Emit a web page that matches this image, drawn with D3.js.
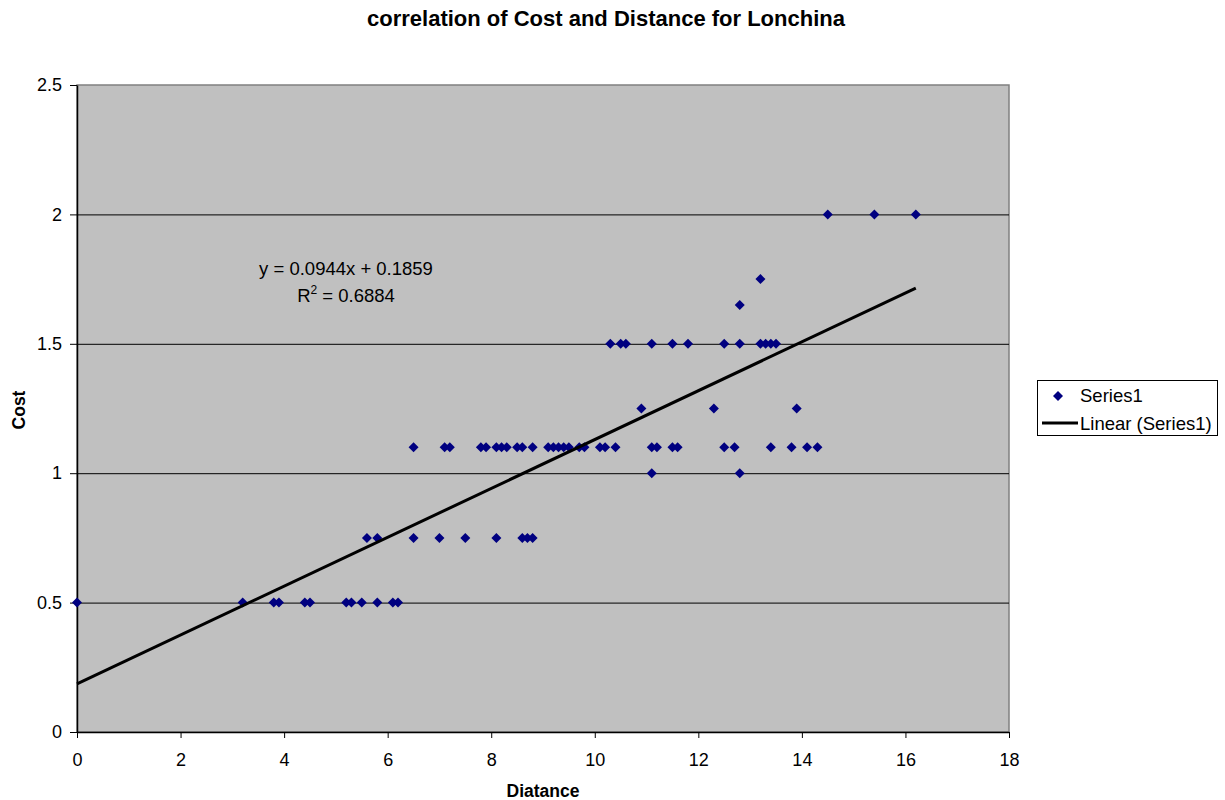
<!DOCTYPE html>
<html>
<head>
<meta charset="utf-8">
<script src="https://cdn.jsdelivr.net/npm/d3@7"></script>
<style>
  html, body { margin: 0; padding: 0; background: #fff; }
  svg { display: block; font-family: Arial, "Liberation Sans", Helvetica, sans-serif; }
</style>
</head>
<body>
<svg id="chart" width="1225" height="800"></svg>
<script>
// Distance (x) and cost (y) observations, grouped by cost level
const cost050 = [0, 3.2, 3.8, 3.9, 4.4, 4.5, 5.2, 5.3, 5.5, 5.8, 6.1, 6.2];
const cost075 = [5.6, 5.8, 6.5, 7.0, 7.5, 8.1, 8.6, 8.7, 8.8];
const cost100 = [11.1, 12.8];
const cost110 = [6.5, 7.1, 7.2, 7.8, 7.9, 8.1, 8.2, 8.3, 8.5, 8.6, 8.8, 9.1, 9.2, 9.3, 9.4, 9.5, 9.7, 9.8,
                 10.1, 10.2, 10.4, 11.1, 11.2, 11.5, 11.6, 12.5, 12.7, 13.4, 13.8, 14.1, 14.3];
const cost125 = [10.9, 12.3, 13.9];
const cost150 = [10.3, 10.5, 10.6, 11.1, 11.5, 11.8, 12.5, 12.8, 13.2, 13.3, 13.4, 13.5];
const cost165 = [12.8];
const cost175 = [13.2];
const cost200 = [14.5, 15.4, 16.2];

const costLevels = [0.5, 0.75, 1.0, 1.1, 1.25, 1.5, 1.65, 1.75, 2.0];
const distanceGroups = [cost050, cost075, cost100, cost110, cost125, cost150, cost165, cost175, cost200];

// Linear trendline coefficients
const slope = 0.0944;
const intercept = 0.1859;
const rSquared = 0.6884;

const xTicks = [0, 2, 4, 6, 8, 10, 12, 14, 16, 18];
const yTicks = [0, 0.5, 1, 1.5, 2, 2.5];

const points = [];
distanceGroups.forEach((xs, i) => xs.forEach(x => points.push({ x: x, y: costLevels[i] })));

const svg = d3.select("#chart");
const plotLeft = 77, plotRight = 1009, plotTop = 85, plotBottom = 732;

const x = d3.scaleLinear().domain([0, 18]).range([plotLeft, plotRight]);
const y = d3.scaleLinear().domain([0, 2.5]).range([plotBottom, plotTop]);

// Title
svg.append("text")
  .attr("x", 606).attr("y", 26)
  .attr("text-anchor", "middle")
  .attr("font-size", 22).attr("font-weight", "bold")
  .text("correlation of Cost and Distance for Lonchina");

// Plot area
svg.append("rect")
  .attr("x", plotLeft).attr("y", plotTop)
  .attr("width", plotRight - plotLeft).attr("height", plotBottom - plotTop)
  .attr("fill", "#c0c0c0").attr("stroke", "#808080").attr("stroke-width", 1.5);

// Gridlines
svg.append("g")
  .selectAll("line")
  .data(yTicks.filter(t => t > 0 && t < 2.5))
  .join("line")
  .attr("x1", plotLeft).attr("x2", plotRight)
  .attr("y1", d => y(d) + 0.5).attr("y2", d => y(d) + 0.5)
  .attr("stroke", "#000").attr("stroke-width", 1);

// Axes
const xAxis = svg.append("g")
  .attr("transform", `translate(0,${plotBottom})`)
  .call(d3.axisBottom(x).tickValues(xTicks).tickFormat(d3.format("d")).tickSizeInner(6).tickSizeOuter(0).tickPadding(15));
const yAxis = svg.append("g")
  .attr("transform", `translate(${plotLeft},0)`)
  .call(d3.axisLeft(y).tickValues(yTicks).tickFormat(d => String(d)).tickSizeInner(7).tickSizeOuter(0).tickPadding(8));

[xAxis, yAxis].forEach(g => {
  g.select(".domain").attr("stroke", "#000").attr("stroke-width", 1.5);
  g.selectAll(".tick line").attr("stroke", "#000");
  g.selectAll(".tick text").attr("font-size", 18).attr("fill", "#000")
    .attr("font-family", "Arial, 'Liberation Sans', sans-serif");
});

// Axis titles
svg.append("text")
  .attr("x", 543).attr("y", 797)
  .attr("text-anchor", "middle")
  .attr("font-size", 17.5).attr("font-weight", "bold")
  .text("Diatance");
svg.append("text")
  .attr("transform", "translate(25,410) rotate(-90)")
  .attr("text-anchor", "middle")
  .attr("font-size", 17.5).attr("font-weight", "bold")
  .text("Cost");

// Diamond marker
const diamond = r => `M0,${-r}L${r},0L0,${r}L${-r},0Z`;

svg.append("g")
  .selectAll("path")
  .data(points)
  .join("path")
  .attr("transform", d => `translate(${x(d.x)},${y(d.y)})`)
  .attr("d", diamond(5))
  .attr("fill", "#000080");

// Trendline across the observed distance range
const xMin = d3.min(points, d => d.x), xMax = d3.max(points, d => d.x);
svg.append("line")
  .attr("x1", x(xMin)).attr("y1", y(slope * xMin + intercept))
  .attr("x2", x(xMax)).attr("y2", y(slope * xMax + intercept))
  .attr("stroke", "#000").attr("stroke-width", 3);

// Trendline equation
svg.append("text")
  .attr("font-size", 18.5).attr("text-anchor", "middle")
  .attr("x", 346).attr("y", 275)
  .text(`y = ${slope}x + ${intercept}`);
const r2 = svg.append("text")
  .attr("font-size", 18.5).attr("text-anchor", "middle")
  .attr("x", 346).attr("y", 302);
r2.append("tspan").text("R");
r2.append("tspan").attr("font-size", 12).attr("dy", -8).text("2");
r2.append("tspan").attr("dy", 8).text(` = ${rSquared}`);

// Legend
const lg = svg.append("g");
lg.append("rect")
  .attr("x", 1037.5).attr("y", 380.5).attr("width", 180).attr("height", 55)
  .attr("fill", "#fff").attr("stroke", "#000").attr("stroke-width", 1);
lg.append("path")
  .attr("transform", "translate(1058,396)")
  .attr("d", diamond(5)).attr("fill", "#000080");
lg.append("text").attr("x", 1080).attr("y", 402).attr("font-size", 18.5).text("Series1");
lg.append("line")
  .attr("x1", 1042).attr("x2", 1078).attr("y1", 423).attr("y2", 423)
  .attr("stroke", "#000").attr("stroke-width", 3);
lg.append("text").attr("x", 1080).attr("y", 430).attr("font-size", 18.5).text("Linear (Series1)");
</script>
</body>
</html>
